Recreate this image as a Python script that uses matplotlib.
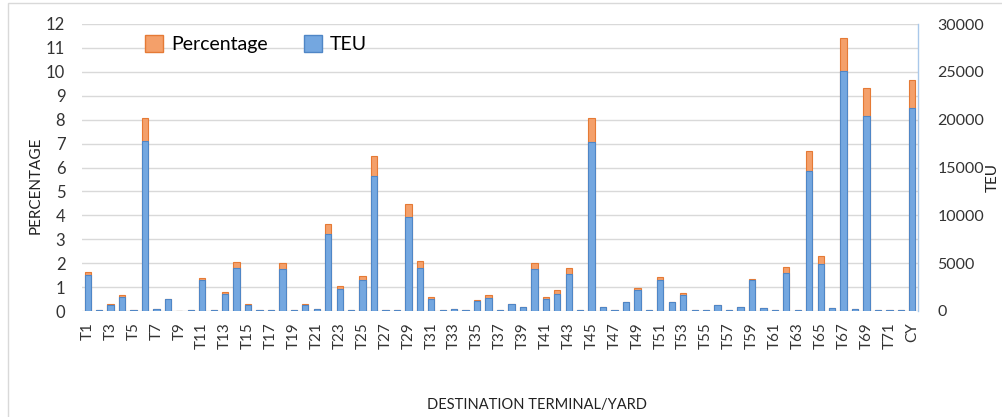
import matplotlib
matplotlib.use("Agg")
import matplotlib.pyplot as plt
from matplotlib.patches import Patch, Rectangle

categories = [f"T{i}" for i in range(1, 73)] + ["CY"]

percentage = [1.63, 0.05, 0.28, 0.66, 0.06, 8.09, 0.07, 0.52, 0.0, 0.05,
              1.38, 0.05, 0.78, 2.04, 0.28, 0.05, 0.05, 2.00, 0.05, 0.28,
              0.08, 3.63, 1.05, 0.05, 1.45, 6.46, 0.05, 0.05, 4.46, 2.08,
              0.60, 0.05, 0.10, 0.05, 0.47, 0.67, 0.05, 0.28, 0.17, 2.02,
              0.59, 0.87, 1.81, 0.05, 8.08, 0.17, 0.05, 0.36, 0.98, 0.05,
              1.42, 0.38, 0.75, 0.05, 0.05, 0.27, 0.05, 0.17, 1.35, 0.13,
              0.05, 1.83, 0.05, 6.68, 2.29, 0.14, 11.43, 0.07, 9.33, 0.05,
              0.05, 0.05, 9.66]

teu = [3725, 125, 675, 1475, 150, 17800, 175, 1250, 0, 125,
       3250, 125, 1825, 4500, 675, 125, 125, 4400, 125, 675,
       200, 8000, 2325, 125, 3200, 14125, 125, 125, 9775, 4525,
       1300, 125, 250, 125, 1000, 1400, 125, 700, 425, 4400,
       1300, 1825, 3900, 125, 17675, 425, 125, 900, 2175, 125,
       3200, 950, 1700, 125, 125, 675, 125, 425, 3200, 325,
       125, 3975, 125, 14650, 4950, 350, 25075, 175, 20400, 125,
       125, 125, 21175]

pct_ticks = list(range(0, 13))
teu_ticks = [0, 5000, 10000, 15000, 20000, 25000, 30000]

FONT = ["Lato", "DejaVu Sans"]
plt.rcParams["font.family"] = FONT

fig = plt.figure(figsize=(10.03, 4.17), dpi=100)
W, H = 1003, 417
ax = fig.add_axes([82 / W, 1 - 311 / H, (918 - 82) / W, (311 - 24) / H])
ax2 = ax.twinx()

x = list(range(len(categories)))
orange_fill, orange_edge = "#F4A06A", "#E57A35"
blue_fill, blue_edge = "#74A7E0", "#4F86C6"

ax.bar(x, percentage, width=0.55, color=orange_fill, edgecolor=orange_edge,
       linewidth=0.8, zorder=2)
ax2.bar(x, teu, width=0.55, color=blue_fill, edgecolor=blue_edge,
        linewidth=0.8, zorder=3)

ax.set_xlim(-0.5, len(categories) - 0.5)
ax.set_ylim(0, 12)
ax2.set_ylim(0, 30000)
ax.set_yticks(pct_ticks)
ax2.set_yticks(teu_ticks)
ax.yaxis.grid(True, color="#D9D9D9", linewidth=1.0, zorder=0)
ax.set_axisbelow(True)

ax.set_xticks(x[::2])
ax.set_xticklabels(categories[::2], rotation=90, fontsize=11, color="#333333")
ax.tick_params(axis="x", length=0, pad=8)
ax.tick_params(axis="y", length=0, pad=12, labelsize=12, labelcolor="#333333")
ax2.tick_params(axis="y", length=0, pad=14, labelsize=11.5, labelcolor="#333333")

for s in ["top", "left", "right", "bottom"]:
    ax.spines[s].set_visible(False)
for s in ["top", "left", "bottom"]:
    ax2.spines[s].set_visible(False)
ax2.spines["right"].set_color("#A9C8EA")
ax2.spines["right"].set_linewidth(1.0)

ax.set_ylabel("PERCENTAGE", fontsize=11, color="#222222")
ax.yaxis.set_label_coords(-39 / 836, (311 - 185) / 287)
ax2.set_ylabel("TEU", fontsize=11, color="#222222")
ax2.yaxis.set_label_coords((986 - 82) / 836, (311 - 177) / 287)
fig.text(537 / W, 1 - 405 / H, "DESTINATION TERMINAL/YARD", fontsize=10.5,
         ha="center", va="center", color="#222222")

handles = [Patch(facecolor=orange_fill, edgecolor=orange_edge, label="Percentage"),
           Patch(facecolor=blue_fill, edgecolor=blue_edge, label="TEU")]
fig.legend(handles=handles, loc="center left", bbox_to_anchor=(128 / W, 1 - 44 / H),
           ncol=2, frameon=False, fontsize=14, handlelength=0.9,
           handleheight=1.0, handletextpad=0.4, columnspacing=1.9)

fig.patches.append(Rectangle((8 / W, -0.1), 1.2, 1 - 3 / H + 0.1,
                             transform=fig.transFigure, fill=False,
                             edgecolor="#D9D9D9", linewidth=1.0))

fig.savefig("out.png", dpi=100)
